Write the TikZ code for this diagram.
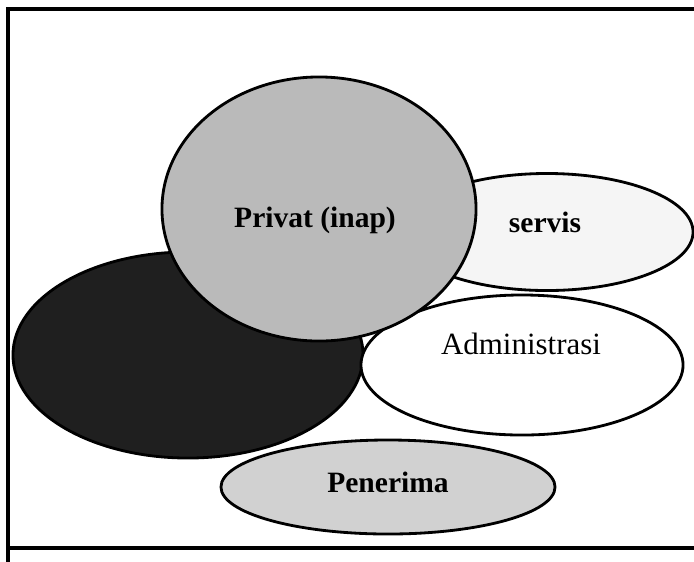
\documentclass[tikz,border=0pt]{standalone}
\usepackage{fontspec}
\setmainfont{Liberation Serif}
\usepackage{tikz}
\usetikzlibrary{shapes.geometric}

\begin{document}
\begin{tikzpicture}[x=0.025cm,y=-0.025cm,
  blob/.style={draw,ellipse,line width=2pt,inner sep=0pt},
  lbl/.style={font=\fontsize{21}{25}\selectfont\bfseries}]
\useasboundingbox (0,0) rectangle (694,561);
\node [blob,fill=black!88,minimum width=8.75cm,minimum height=5.15cm] (kelas) at (188,355) {};
\node [blob,fill=black!4,minimum width=7.3cm,minimum height=2.925cm] (servis) at (547,232) {};
\node [blob,fill=white,minimum width=8.05cm,minimum height=3.5cm] (admin) at (522,365) {};
\node [blob,fill=black!18,minimum width=8.35cm,minimum height=2.35cm] (terima) at (388,487) {};
\node [blob,fill=black!27,minimum width=7.85cm,minimum height=6.6cm] (privat) at (319,209) {};
\node [lbl] (t1) at (315,220) {Privat (inap)};
\node [lbl] (t2) at (545,222) {servis};
\node [font=\fontsize{22}{26}\selectfont] (t3) at (521,344) {Administrasi};
\node [lbl] (t4) at (388,482) {Penerima};
\draw [line width=2.4pt] (700,9) -- (8,9) -- (8,565);
\draw [line width=2.4pt] (8,548) -- (700,548);
\end{tikzpicture}
\end{document}
